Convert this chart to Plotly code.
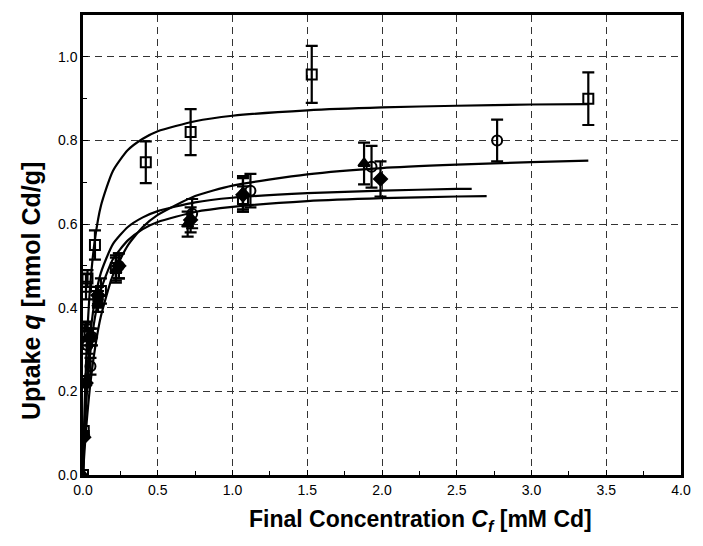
import plotly.graph_objects as go

# ---- fitted curves ----
curve_top_x = [0, 0.005, 0.01, 0.02, 0.03, 0.05, 0.08, 0.12, 0.2, 0.3, 0.4, 0.5, 0.75, 1.0, 1.5, 2.0, 2.5, 3.0, 3.38]
curve_top_y = [0, 0.086, 0.156, 0.266, 0.348, 0.461, 0.564, 0.644, 0.727, 0.777, 0.804, 0.822, 0.846, 0.859, 0.872, 0.879, 0.883, 0.886, 0.887]

curve_circ_x = [0, 0.005, 0.01, 0.02, 0.03, 0.05, 0.08, 0.12, 0.2, 0.3, 0.4, 0.5, 0.75, 1.0, 1.5, 2.0, 2.5, 3.0, 3.38]
curve_circ_y = [0, 0.030, 0.057, 0.106, 0.149, 0.221, 0.302, 0.380, 0.478, 0.549, 0.593, 0.622, 0.667, 0.692, 0.719, 0.734, 0.742, 0.748, 0.752]

curve_mid_x = [0, 0.005, 0.01, 0.02, 0.03, 0.05, 0.08, 0.12, 0.2, 0.3, 0.4, 0.5, 0.75, 1.0, 1.5, 2.0, 2.5, 2.6]
curve_mid_y = [0, 0.060, 0.111, 0.191, 0.253, 0.339, 0.420, 0.484, 0.552, 0.593, 0.616, 0.631, 0.652, 0.663, 0.674, 0.680, 0.684, 0.684]

curve_low_x = [0, 0.005, 0.01, 0.02, 0.03, 0.05, 0.08, 0.12, 0.2, 0.3, 0.4, 0.5, 0.75, 1.0, 1.5, 2.0, 2.5, 2.7]
curve_low_y = [0, 0.049, 0.091, 0.161, 0.216, 0.297, 0.377, 0.443, 0.516, 0.561, 0.588, 0.605, 0.629, 0.641, 0.655, 0.662, 0.666, 0.667]

# ---- measured points ----
sqA_x = [0, 0.005, 0.01, 0.02, 0.03, 0.08, 0.42, 0.72, 1.53, 3.38]
sqA_y = [0, 0.105, 0.225, 0.355, 0.47, 0.55, 0.748, 0.82, 0.958, 0.90]
sqA_e = [0, 0, 0, 0.01, 0.02, 0.035, 0.05, 0.055, 0.068, 0.063]

sqB_x = [0.01, 0.02, 0.12, 0.22, 1.07]
sqB_y = [0.34, 0.45, 0.44, 0.495, 0.66]
sqB_e = [0.02, 0.03, 0.03, 0.03, 0.03]

circ_x = [0.03, 0.05, 0.06, 0.1, 0.24, 0.73, 1.12, 1.93, 2.77]
circ_y = [0.31, 0.26, 0.33, 0.42, 0.50, 0.625, 0.68, 0.737, 0.80]
circ_e = [0.02, 0.02, 0.02, 0.02, 0.03, 0.035, 0.04, 0.05, 0.05]

tri_x = [0, 0.005, 0.02, 0.04, 0.1, 0.22, 0.70, 1.07, 1.88]
tri_y = [0, 0.10, 0.22, 0.33, 0.41, 0.49, 0.60, 0.675, 0.745]
tri_e = [0, 0, 0, 0.02, 0.02, 0.03, 0.03, 0.04, 0.05]

dia_x = [0.005, 0.02, 0.05, 0.1, 0.24, 0.72, 1.07, 1.99]
dia_y = [0.09, 0.22, 0.33, 0.43, 0.50, 0.61, 0.67, 0.708]
dia_e = [0, 0, 0.02, 0.02, 0.03, 0.03, 0.04, 0.042]

x_ticks = [0, 0.5, 1.0, 1.5, 2.0, 2.5, 3.0, 3.5, 4.0]
x_labels = ["0.0", "0.5", "1.0", "1.5", "2.0", "2.5", "3.0", "3.5", "4.0"]
y_ticks = [0, 0.2, 0.4, 0.6, 0.8, 1.0]
y_labels = ["0.0", "0.2", "0.4", "0.6", "0.8", "1.0"]

x_title = "<b>Final Concentration <i>C</i><sub><i>f</i></sub> [mM Cd]</b>"
y_title = "<b>Uptake <i>q</i> [mmol Cd/g]</b>"

fig = go.Figure()

for cx, cy in [(curve_top_x, curve_top_y), (curve_circ_x, curve_circ_y),
               (curve_mid_x, curve_mid_y), (curve_low_x, curve_low_y)]:
    fig.add_trace(go.Scatter(x=cx, y=cy, mode="lines",
                             line=dict(color="black", width=2.2, shape="spline", smoothing=0.6),
                             showlegend=False, hoverinfo="skip"))

def pts(x, y, e, symbol, size=10):
    fig.add_trace(go.Scatter(
        x=x, y=y, mode="markers", showlegend=False,
        marker=dict(symbol=symbol, size=size, color="black", line=dict(color="black", width=2)),
        error_y=dict(type="data", array=e, color="black", thickness=2.2, width=6),
    ))

pts(sqA_x, sqA_y, sqA_e, "square-open", 10)
pts(sqB_x, sqB_y, sqB_e, "square-open", 10)
pts(circ_x, circ_y, circ_e, "circle-open", 10)
pts(tri_x, tri_y, tri_e, "triangle-up", 10)
pts(dia_x, dia_y, dia_e, "diamond", 10)

fig.update_layout(
    width=703, height=546,
    margin=dict(l=83, r=12, t=15, b=71),
    paper_bgcolor="white", plot_bgcolor="white",
    font=dict(family="Liberation Sans, Arial, sans-serif", color="black"),
    annotations=[
        dict(text=x_title, xref="paper", yref="paper", x=0.564, y=0, yshift=-45,
             xanchor="center", yanchor="middle", showarrow=False, font=dict(size=23)),
        dict(text=y_title, xref="paper", yref="paper", x=0, xshift=-52, y=0.40,
             xanchor="center", yanchor="middle", showarrow=False, textangle=-90, font=dict(size=25)),
    ],
)

grid_dash = "7px,5px"
fig.update_xaxes(
    range=[0, 4.0], tickvals=x_ticks, ticktext=x_labels,
    tickfont=dict(size=14), ticks="inside", ticklen=5, tickwidth=1, tickcolor="black",
    minor=dict(dtick=0.25, ticks="inside", ticklen=4, tickcolor="black", showgrid=False),
    showline=True, linecolor="black", linewidth=2.5, mirror=True,
    showgrid=True, gridcolor="#333", griddash=grid_dash, gridwidth=1, zeroline=False,
)
fig.update_yaxes(
    range=[0, 1.1], tickvals=y_ticks, ticktext=y_labels,
    tickfont=dict(size=14), ticks="inside", ticklen=5, tickwidth=1, tickcolor="black",
    minor=dict(dtick=0.1, ticks="inside", ticklen=4, tickcolor="black", showgrid=False),
    showline=True, linecolor="black", linewidth=2.5, mirror=True,
    showgrid=True, gridcolor="#333", griddash=grid_dash, gridwidth=1, zeroline=False,
)

fig.write_html("out.html")
